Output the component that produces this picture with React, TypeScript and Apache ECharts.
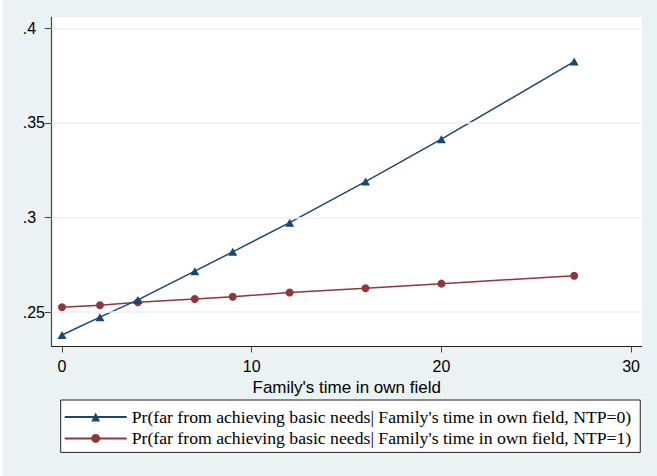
import React, { useEffect, useRef } from "react";
import * as echarts from "echarts";

const xValues = [0, 2, 4, 7, 9, 12, 16, 20, 27];
const ntp0 = [0.238, 0.2474, 0.2565, 0.2717, 0.2819, 0.2973, 0.319, 0.3414, 0.3824];
const ntp1 = [0.2526, 0.2537, 0.2553, 0.257, 0.2582, 0.2604, 0.2627, 0.2651, 0.2693];
const xTicks = [0, 10, 20, 30];
const yTicks = [0.25, 0.3, 0.35, 0.4];
const yTickLabels = [".25", ".3", ".35", ".4"];
const seriesNames = [
  "Pr(far from achieving basic needs| Family's time in own field, NTP=0)",
  "Pr(far from achieving basic needs| Family's time in own field, NTP=1)",
];
const xTitle = "Family's time in own field";

export default function App() {
  const ref = useRef<HTMLDivElement>(null);
  useEffect(() => {
    document.body.style.margin = "0";
    const chart = echarts.init(ref.current!, null, { renderer: "svg" });
    const sans = "Liberation Sans, Arial, sans-serif";
    chart.setOption({
      animation: false,
      backgroundColor: "#eaf2f3",
      grid: {
        left: 48.7,
        right: 15.3,
        top: 17.3,
        bottom: 129.5,
        show: true,
        backgroundColor: "#ffffff",
        borderWidth: 0,
        containLabel: false,
      },
      xAxis: {
        type: "value",
        min: -0.543,
        max: 30.56,
        name: xTitle,
        nameLocation: "middle",
        nameGap: 27,
        nameTextStyle: { fontFamily: sans, fontSize: 17, color: "#000" },
        axisLine: { show: true, onZero: false, lineStyle: { color: "#222", width: 1.2 } },
        axisTick: { show: true, customValues: xTicks, length: 6, lineStyle: { color: "#444" } },
        axisLabel: {
          customValues: xTicks,
          margin: 12,
          fontFamily: sans,
          fontSize: 16,
          color: "#000",
        },
        splitLine: { show: false },
      },
      yAxis: {
        type: "value",
        min: 0.2319,
        max: 0.4058,
        axisLine: { show: true, onZero: false, lineStyle: { color: "#444", width: 1.2 } },
        axisTick: { show: true, customValues: yTicks, length: 7, lineStyle: { color: "#444" } },
        axisLabel: {
          customValues: yTicks,
          align: "left",
          margin: 29,
          fontFamily: sans,
          fontSize: 16,
          color: "#000",
          formatter: (v: number) => {
            const i = yTicks.findIndex((t) => Math.abs(t - v) < 1e-6);
            return i >= 0 ? yTickLabels[i] : "";
          },
        },
        splitLine: { show: false },
      },
      legend: {
        orient: "vertical",
        left: 57.7,
        top: 400,
        data: seriesNames,
        itemWidth: 62,
        itemHeight: 11,
        itemGap: 3.4,
        padding: [8, 9, 5, 3],
        backgroundColor: "#ffffff",
        borderColor: "#222",
        borderWidth: 1,
        textStyle: {
          fontFamily: "Liberation Serif, Times New Roman, serif",
          fontSize: 17.7,
          lineHeight: 18,
          color: "#000",
        },
      },
      series: [
        {
          type: "line",
          name: "grid",
          data: [],
          silent: true,
          z: 1,
          markLine: {
            silent: true,
            symbol: "none",
            label: { show: false },
            lineStyle: { color: "#eaf2f3", width: 1.5, type: "solid" },
            data: yTicks.map((v) => ({ yAxis: v })),
          },
        },
        {
          type: "line",
          name: seriesNames[0],
          z: 3,
          data: xValues.map((x, i) => [x, ntp0[i]]),
          symbol: "triangle",
          symbolSize: [9, 8],
          itemStyle: { color: "#1a476f" },
          lineStyle: { color: "#1a476f", width: 1.5 },
        },
        {
          type: "line",
          name: seriesNames[1],
          z: 2,
          data: xValues.map((x, i) => [x, ntp1[i]]),
          symbol: "circle",
          symbolSize: 8,
          itemStyle: { color: "#90353b" },
          lineStyle: { color: "#90353b", width: 1.5 },
        },
      ],
    });
    return () => chart.dispose();
  }, []);
  return (
    <div
      ref={ref}
      style={{ position: "absolute", left: 3, top: 0, width: 654, height: 476 }}
    />
  );
}
